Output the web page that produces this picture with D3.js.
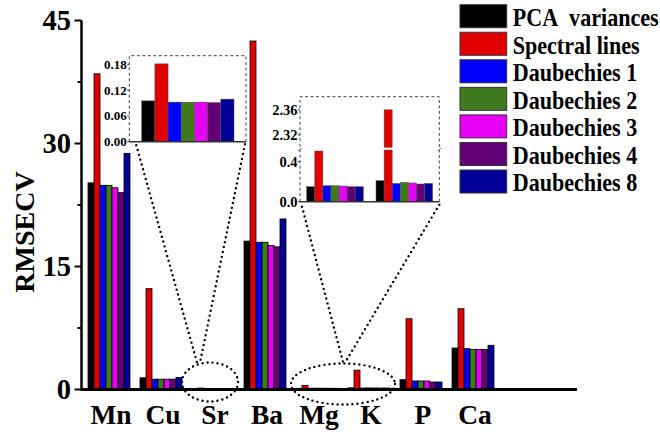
<!DOCTYPE html>
<html>
<head>
<meta charset="utf-8">
<script src="https://cdn.jsdelivr.net/npm/d3@7"></script>
</head>
<body style="margin:0;padding:0;background:#fff;">
<svg id="chart" width="660" height="434" style="display:block;"></svg>
<script>
// Elements analysed
const categories = ["Mn", "Cu", "Sr", "Ba", "Mg", "K", "P", "Ca"];

// Wavelength-selection methods
const seriesNames = ["PCA\u00A0\u00A0variances", "Spectral lines", "Daubechies 1", "Daubechies 2",
                     "Daubechies 3", "Daubechies 4", "Daubechies 8"];
const seriesColors = ["#000000", "#e00000", "#0000ff", "#3f7a1f", "#e600f5", "#640075", "#000099"];

// RMSECV per element for each method
const pcaVariances  = [25.2, 1.43, 0.095, 18.1, 0.15, 0.21, 1.20, 5.06];
const spectralLines = [38.5, 12.3, 0.181, 42.5, 0.507, 2.36, 8.63, 9.85];
const daubechies1   = [24.9, 1.26, 0.092, 17.96, 0.16, 0.183, 1.04, 4.98];
const daubechies2   = [24.9, 1.26, 0.092, 17.96, 0.16, 0.193, 1.04, 4.90];
const daubechies3   = [24.6, 1.26, 0.092, 17.56, 0.157, 0.187, 1.04, 4.90];
const daubechies4   = [24.0, 1.26, 0.091, 17.4, 0.15, 0.177, 0.91, 4.90];
const daubechies8   = [28.8, 1.46, 0.099, 20.8, 0.15, 0.183, 0.91, 5.39];

const seriesValues = [pcaVariances, spectralLines, daubechies1, daubechies2,
                      daubechies3, daubechies4, daubechies8];

// Tick labels
const mainTicks = [0, 15, 30, 45];
const mainMinorTicks = [7.5, 22.5, 37.5];
const srTicks = [0, 0.06, 0.12, 0.18];
const mgkLowTicks = [0.0, 0.4];
const mgkHighTicks = [2.32, 2.36];

const FONT = '"Liberation Serif", "Times New Roman", serif';
const svg = d3.select("#chart");
function label(sel) {
  return sel.style("font-family", FONT).style("font-weight", "bold").attr("fill", "#000");
}

// ---------- main chart ----------
const y = d3.scaleLinear().domain([0, 45]).range([389.5, 20.5]);
const x = d3.scaleBand().domain(categories).range([83, 499])
  .paddingInner(10 / 52).paddingOuter(5 / 52);
const xs = d3.scaleBand().domain(d3.range(seriesNames.length)).range([0, x.bandwidth()]);
const axisLeft = 81.5, axisRight = 577;

const rows = categories.map((c, i) => ({ cat: c, vals: seriesValues.map(s => s[i]) }));

const main = svg.append("g");
main.selectAll("g.grp").data(rows).join("g")
  .attr("transform", d => `translate(${x(d.cat)},0)`)
  .selectAll("rect").data(d => d.vals.map((v, k) => ({ v, k }))).join("rect")
  .attr("x", d => xs(d.k))
  .attr("width", xs.bandwidth())
  .attr("y", d => y(d.v))
  .attr("height", d => y(0) - y(d.v))
  .attr("fill", d => seriesColors[d.k])
  .attr("stroke", "#000").attr("stroke-width", 0.8);

// y axis
const yAxis = main.append("g");
yAxis.append("line").attr("x1", axisLeft).attr("x2", axisLeft)
  .attr("y1", y(45)).attr("y2", y(0)).attr("stroke", "#000").attr("stroke-width", 2.5);
yAxis.selectAll("line.maj").data(mainTicks).join("line")
  .attr("x1", axisLeft - 7).attr("x2", axisLeft).attr("y1", d => y(d)).attr("y2", d => y(d))
  .attr("stroke", "#000").attr("stroke-width", 2);
yAxis.selectAll("line.min").data(mainMinorTicks).join("line")
  .attr("x1", axisLeft - 4).attr("x2", axisLeft).attr("y1", d => y(d)).attr("y2", d => y(d))
  .attr("stroke", "#000").attr("stroke-width", 2);
yAxis.selectAll("text").data(mainTicks).join("text")
  .attr("x", 71).attr("y", d => y(d)).attr("dy", "0.34em")
  .attr("text-anchor", "end").attr("font-size", 28.5).call(label).text(d => d);

// x axis
main.append("line").attr("x1", axisLeft - 1).attr("x2", axisRight)
  .attr("y1", y(0)).attr("y2", y(0)).attr("stroke", "#000").attr("stroke-width", 3);
main.selectAll("text.cat").data(categories).join("text")
  .attr("class", "cat")
  .attr("x", d => x(d) + x.bandwidth() / 2 + 2).attr("y", 423.5)
  .attr("text-anchor", "middle").attr("font-size", 27.5).call(label).text(d => d);

// axis title
svg.append("text").attr("transform", "translate(34,232) rotate(-90)")
  .attr("text-anchor", "middle").attr("font-size", 28).call(label).text("RMSECV");

// ---------- legend ----------
const legend = svg.append("g");
seriesNames.forEach((name, i) => {
  const top = 4.7 + i * 27.55;
  legend.append("rect").attr("x", 460).attr("y", top).attr("width", 46.7).attr("height", 23)
    .attr("fill", seriesColors[i]).attr("stroke", "#333").attr("stroke-width", 1);
  legend.append("text").attr("transform", `translate(512.7,${top + 21.3}) scale(0.85,1)`)
    .attr("font-size", 26).call(label).text(name);
});

// dotted callout helper
function dotted(g) {
  return g.attr("fill", "none").attr("stroke", "#000").attr("stroke-width", 2.4)
    .attr("stroke-linecap", "round").attr("stroke-dasharray", "0,5");
}

// ---------- Sr inset ----------
const srIdx = categories.indexOf("Sr");
const srBox = { x0: 129.3, x1: 246, y0: 55.7, y1: 141.7 };
const ySr = d3.scaleLinear().domain([0, 0.2]).range([srBox.y1, srBox.y0]);
const xSr = d3.scaleBand().domain(d3.range(seriesNames.length)).range([srBox.x0 + 12.4, srBox.x1 - 12]);
const sr = svg.append("g");
sr.append("path").attr("d", `M${srBox.x0},${srBox.y1}V${srBox.y0}H${srBox.x1}V${srBox.y1}`)
  .attr("fill", "none").attr("stroke", "#444").attr("stroke-width", 1).attr("stroke-dasharray", "3,2.5");
sr.selectAll("rect").data(seriesValues.map((s, k) => ({ v: s[srIdx], k }))).join("rect")
  .attr("x", d => xSr(d.k)).attr("width", xSr.bandwidth())
  .attr("y", d => ySr(d.v)).attr("height", d => ySr(0) - ySr(d.v))
  .attr("fill", d => seriesColors[d.k]).attr("stroke", "#555").attr("stroke-width", 0.5);
sr.append("line").attr("x1", srBox.x0).attr("x2", srBox.x1).attr("y1", srBox.y1).attr("y2", srBox.y1)
  .attr("stroke", "#333").attr("stroke-width", 1.5);
sr.selectAll("line.t").data(srTicks).join("line")
  .attr("x1", srBox.x0 - 2).attr("x2", srBox.x0).attr("y1", d => ySr(d)).attr("y2", d => ySr(d))
  .attr("stroke", "#333").attr("stroke-width", 1);
sr.selectAll("text").data(srTicks).join("text")
  .attr("x", srBox.x0 - 2.5).attr("y", d => ySr(d)).attr("dy", "0.35em")
  .attr("text-anchor", "end").attr("font-size", 13).call(label).text(d => d3.format(".2f")(d));

// Sr callout
const srCx = x("Sr") + x.bandwidth() / 2 - 3;
sr.append("ellipse").attr("cx", srCx).attr("cy", 382).attr("rx", 28).attr("ry", 19.5).call(dotted);
sr.append("line").attr("x1", srBox.x0 + 7).attr("y1", srBox.y1 + 3.5)
  .attr("x2", srCx - 13).attr("y2", 362.5).call(dotted);
sr.append("line").attr("x1", srBox.x1 - 1).attr("y1", srBox.y1 + 2.5)
  .attr("x2", srCx - 10).attr("y2", 362.5).call(dotted);

// ---------- Mg / K inset (broken axis) ----------
const mgkCats = ["Mg", "K"];
const mgkBox = { x0: 300, x1: 439.3, y0: 96.7, y1: 201.7 };
const yLow = d3.scaleLinear().domain([0, 0.517]).range([mgkBox.y1, 150]);
const yHigh = d3.scaleLinear().domain([2.30, 2.38]).range([147.3, 97.3]);
const xMgk = d3.scaleBand().domain(mgkCats).range([mgkBox.x0, mgkBox.x1])
  .paddingInner(12.7 / 69.3).paddingOuter(6.7 / 69.3);
const xMgkS = d3.scaleBand().domain(d3.range(seriesNames.length)).range([0, xMgk.bandwidth()]);
const mgk = svg.append("g");
mgk.append("path").attr("d", `M${mgkBox.x0},${mgkBox.y1}V${mgkBox.y0}H${mgkBox.x1}V${mgkBox.y1}`)
  .attr("fill", "none").attr("stroke", "#444").attr("stroke-width", 1).attr("stroke-dasharray", "3,2.5");

const mgkBars = [];
mgkCats.forEach(c => {
  const ci = categories.indexOf(c);
  seriesValues.forEach((s, k) => {
    const v = s[ci];
    const bx = xMgk(c) + xMgkS(k);
    if (v <= yLow.domain()[1]) {
      mgkBars.push({ x: bx, y0: yLow(v), y1: yLow(0), k });
    } else {
      mgkBars.push({ x: bx, y0: yLow.range()[1], y1: yLow(0), k });
      mgkBars.push({ x: bx, y0: yHigh(v), y1: yHigh.range()[0], k });
    }
  });
});
mgk.selectAll("rect").data(mgkBars).join("rect")
  .attr("x", d => d.x).attr("width", xMgkS.bandwidth())
  .attr("y", d => d.y0).attr("height", d => d.y1 - d.y0)
  .attr("fill", d => seriesColors[d.k]).attr("stroke", "#555").attr("stroke-width", 0.5);
mgk.append("line").attr("x1", mgkBox.x0).attr("x2", mgkBox.x1).attr("y1", mgkBox.y1).attr("y2", mgkBox.y1)
  .attr("stroke", "#333").attr("stroke-width", 1.5);

const mgkTickData = mgkLowTicks.map(v => ({ v, yy: yLow(v), f: ".1f" }))
  .concat(mgkHighTicks.map(v => ({ v, yy: yHigh(v), f: ".2f" })));
mgk.selectAll("line.t").data(mgkTickData).join("line")
  .attr("x1", mgkBox.x0 - 2).attr("x2", mgkBox.x0).attr("y1", d => d.yy).attr("y2", d => d.yy)
  .attr("stroke", "#333").attr("stroke-width", 1);
mgk.selectAll("text").data(mgkTickData).join("text")
  .attr("x", mgkBox.x0 - 2.5).attr("y", d => d.yy).attr("dy", "0.35em")
  .attr("text-anchor", "end").attr("font-size", 14.5).call(label).text(d => d3.format(d.f)(d.v));
// axis break marks
[mgkBox.x0, mgkBox.x1].forEach(bx => {
  mgk.append("path").attr("d", `M${bx - 2},${151}l2,-1.5l2,-1.5`)
    .attr("fill", "none").attr("stroke", "#666").attr("stroke-width", 0.8);
});

// Mg / K callout
const mgkCx = (x("Mg") + x("K") + x.bandwidth()) / 2;
mgk.append("ellipse").attr("cx", mgkCx).attr("cy", 384).attr("rx", 52).attr("ry", 20.5).call(dotted);
mgk.append("line").attr("x1", mgkBox.x0 + 2).attr("y1", mgkBox.y1 + 5)
  .attr("x2", mgkCx).attr("y2", 362).call(dotted);
mgk.append("line").attr("x1", mgkBox.x1).attr("y1", mgkBox.y1 + 3)
  .attr("x2", mgkCx + 3).attr("y2", 361).call(dotted);
</script>
</body>
</html>
